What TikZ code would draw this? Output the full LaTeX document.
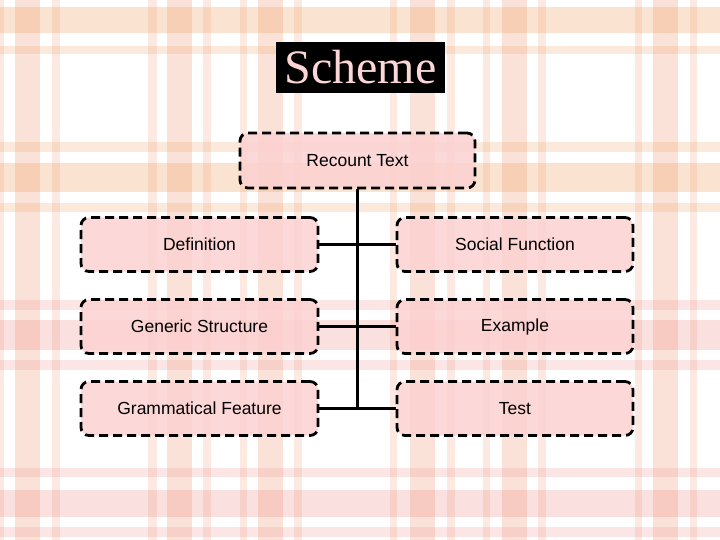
\documentclass[tikz,border=0pt]{standalone}
\usepackage{fontspec}
\setmainfont{Liberation Sans}
\newfontfamily\titlefont{Liberation Serif}
\definecolor{peach}{RGB}{240,165,135}
\definecolor{orangeband}{RGB}{242,170,110}
\definecolor{pinkband}{RGB}{240,145,140}
\definecolor{boxfill}{RGB}{252,210,210}
\definecolor{titlepink}{RGB}{252,214,214}
\tikzset{
  vstripe/.style={fill=peach,fill opacity=0.32},
  hstripeO/.style={fill=orangeband,fill opacity=0.32},
  hstripeP/.style={fill=pinkband,fill opacity=0.28},
  itembox/.style={draw=black,line width=2.8pt,dash pattern=on 9pt off 5pt,
    rounded corners=8pt,fill=boxfill,fill opacity=0.85,text opacity=1,
    minimum width=236pt,minimum height=54pt,inner sep=0pt,
    font=\fontsize{17.5}{20}\selectfont,text=black},
  link/.style={draw=black,line width=3pt}
}
\begin{document}
\begin{tikzpicture}[x=1pt,y=-1pt]
\useasboundingbox (0,0) rectangle (720,540);
\fill[white] (0,0) rectangle (720,540);
% vertical stripes
\foreach \a/\b in {15/40,167/192,258/283,410/435,502/527,653/678}
  \fill[vstripe] (\a,0) rectangle (\b,540);
\foreach \a/\b in {0/4,52/60,148/157,203/211,240/247,294/302,390/397,447/455,483/490,538/546,635/642,690/697}
  \fill[vstripe,fill opacity=0.24] (\a,0) rectangle (\b,540);
% horizontal stripes
\foreach \a/\b in {7/33,163/192}
  \fill[hstripeO] (0,\a) rectangle (720,\b);
\foreach \a/\b in {46/54,142/152,203/212}
  \fill[hstripeO,fill opacity=0.24] (0,\a) rectangle (720,\b);
\foreach \a/\b in {320/350,490/517}
  \fill[hstripeP] (0,\a) rectangle (720,\b);
\foreach \a/\b in {300/310,360/370,468/477,527/537}
  \fill[hstripeP,fill opacity=0.22] (0,\a) rectangle (720,\b);
% title
\node[fill=black,text=titlepink,minimum width=169pt,minimum height=51pt,inner sep=0pt,
  font=\titlefont\fontsize{48}{50}\selectfont] (title) at (360.5,67.5) {Scheme};
% boxes
\node[itembox,minimum width=235pt,minimum height=55pt] (rt) at (357.5,160.5) {Recount Text};
\node[itembox,minimum width=237pt] (def) at (199.5,244.5) {Definition};
\node[itembox,minimum width=237pt] (gen) at (199.5,326.5) {Generic Structure};
\node[itembox,minimum width=237pt] (gram) at (199.5,408.5) {Grammatical Feature};
\node[itembox] (soc) at (515,244.5) {Social Function};
\node[itembox] (ex) at (515,326.5) {Example};
\node[itembox] (test) at (515,408.5) {Test};
% connectors
\coordinate (trunkend) at (rt.south |- gram.east);
\draw[link] (rt.south) -- (trunkend);
\draw[link] (def.east) -- (soc.west);
\draw[link] (gen.east) -- (ex.west);
\draw[link] (gram.east) -- (test.west);
\end{tikzpicture}
\end{document}
